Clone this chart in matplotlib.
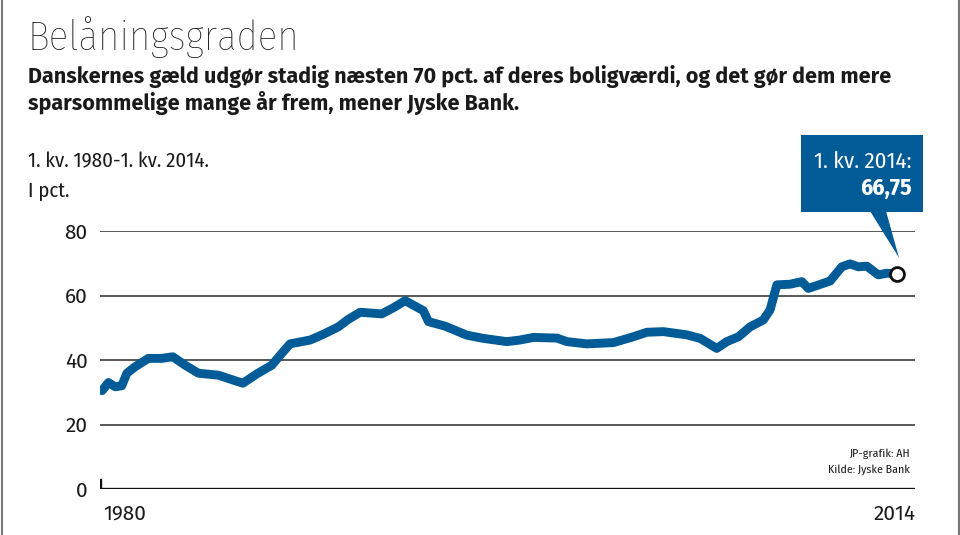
import matplotlib
matplotlib.use("Agg")
import matplotlib.pyplot as plt
from matplotlib.patches import Rectangle, Polygon
from matplotlib.lines import Line2D

plt.rcParams['font.family'] = ['Fira Sans', 'DejaVu Sans']
COND = ['Fira Sans Condensed', 'DejaVu Sans']

# ---- data ----
years = [1980.0, 1980.27, 1980.56, 1980.84, 1981.06, 1981.41, 1981.98, 1982.55, 1983.02,
         1983.55, 1984.12, 1984.97, 1985.47, 1986.02, 1986.62, 1987.26, 1987.69, 1988.04,
         1988.90, 1989.47, 1990.11, 1990.53, 1991.04, 1991.96, 1992.46, 1992.96, 1993.74,
         1993.96, 1994.67, 1995.60, 1996.31, 1997.31, 1997.88, 1998.45, 1999.45, 1999.88,
         2000.73, 2001.87, 2002.72, 2003.30, 2004.01, 2005.01, 2005.58, 2006.29, 2006.72,
         2007.22, 2007.72, 2008.28, 2008.57, 2008.86, 2009.43, 2009.93, 2010.21, 2011.14,
         2011.64, 2011.99, 2012.35, 2012.71, 2013.20, 2013.56, 2014.0]
values = [30.5, 33.0, 31.7, 32.0, 35.9, 37.9, 40.5, 40.5, 41.0,
          38.4, 35.9, 35.3, 34.1, 32.8, 35.7, 38.4, 42.1, 45.0,
          46.2, 48.0, 50.3, 52.6, 54.8, 54.3, 56.2, 58.4, 55.3,
          51.9, 50.5, 47.7, 46.7, 45.7, 46.2, 47.0, 46.8, 45.7,
          45.0, 45.4, 47.2, 48.6, 48.8, 47.8, 46.7, 43.6, 45.7,
          47.2, 50.3, 52.4, 55.5, 63.3, 63.5, 64.3, 62.2, 64.5,
          68.9, 69.8, 68.9, 69.1, 66.4, 66.9, 66.75]
y_ticks = [0, 20, 40, 60, 80]
y_labels = ["0", "20", "40", "60", "80"]
x_labels = ["1980", "2014"]
last_label = "1. kv. 2014:"
last_value_text = "66,75"

BLUE = "#005b97"
INK = "#1a1a1a"
W, H = 960, 535

def fx(px):
    return px / W

def fy(py):
    return 1 - py / H

fig = plt.figure(figsize=(W / 100, H / 100), dpi=100)
fig.patch.set_facecolor("white")

ax = fig.add_axes([fx(100), fy(489), (915 - 100) / W, (489 - 231) / H])
ax.set_xlim(1979.91, 2014.77)
ax.set_ylim(0, 80)
for s in ax.spines.values():
    s.set_visible(False)
ax.set_xticks([])
ax.set_yticks(y_ticks)
ax.set_yticklabels(y_labels)
ax.tick_params(axis="y", length=0, pad=9, labelsize=15, colors=INK)
ax.patch.set_alpha(0)

for t in y_ticks[1:]:
    ax.axhline(t, color="#2b2b2b", lw=1.1, zorder=1)
ax.axhline(0, color="#111111", lw=2.4, zorder=1)
ax.axvline(1979.91, ymin=0, ymax=0.035, color="#111111", lw=2.4, zorder=1)

ax.plot(years, values, color=BLUE, lw=6.4, solid_capstyle="round",
        solid_joinstyle="round", zorder=3)
ax.plot(years[-1], values[-1], marker="o", ms=10, mfc="white", mec="#111111",
        mew=2.0, zorder=4, clip_on=False)

# x labels
fig.text(fx(103), fy(520), x_labels[0], ha="left", va="baseline", fontsize=15, color=INK)
fig.text(fx(916), fy(520), x_labels[1], ha="right", va="baseline", fontsize=15, color=INK)

# titles
fig.text(fx(27), fy(50), "Belåningsgraden", ha="left", va="baseline", fontsize=29.5,
         fontweight="light", color=INK, family=COND)
fig.text(fx(28), fy(83), "Danskernes gæld udgør stadig næsten 70 pct. af deres boligværdi, og det gør dem mere",
         ha="left", va="baseline", fontsize=15.5, fontweight="bold", color=INK)
fig.text(fx(28), fy(110), "sparsommelige mange år frem, mener Jyske Bank.",
         ha="left", va="baseline", fontsize=15.5, fontweight="bold", color=INK)
fig.text(fx(28), fy(167), "1. kv. 1980-1. kv. 2014.", ha="left", va="baseline", fontsize=15,
         color=INK, family=COND)
fig.text(fx(28), fy(197), "I pct.", ha="left", va="baseline", fontsize=15,
         color=INK, family=COND)

# source
fig.text(fx(910), fy(457), "JP-grafik: AH", ha="right", va="baseline", fontsize=8.5, color=INK, family=COND)
fig.text(fx(910), fy(473), "Kilde: Jyske Bank", ha="right", va="baseline", fontsize=8.5, color=INK, family=COND)

# callout box
fig.add_artist(Rectangle((fx(801), fy(212)), (923 - 801) / W, (212 - 135) / H,
                         transform=fig.transFigure, facecolor=BLUE, edgecolor="none", zorder=5))
px, py = ax.transData.transform((years[-1], values[-1]))
tip_y = py + 16
tri = Polygon([(fx(870), fy(211)), (fx(886), fy(211)), (px / W + 2 / W, tip_y / H)],
              closed=True, transform=fig.transFigure, facecolor=BLUE, edgecolor="none", zorder=5)
fig.add_artist(tri)
fig.text(fx(912), fy(168), last_label, ha="right", va="baseline", fontsize=16.5,
         color="white", zorder=6, family=COND)
fig.text(fx(912), fy(195), last_value_text, ha="right", va="baseline", fontsize=17,
         fontweight="bold", color="white", zorder=6, family=COND)

# frame lines at left and right edges
fig.add_artist(Line2D([fx(1.5), fx(1.5)], [0, 1], transform=fig.transFigure, color="#777777", lw=1.5))
fig.add_artist(Line2D([fx(958.5), fx(958.5)], [0, 1], transform=fig.transFigure, color="#777777", lw=1.5))

fig.savefig("out.png", dpi=100, facecolor="white")
